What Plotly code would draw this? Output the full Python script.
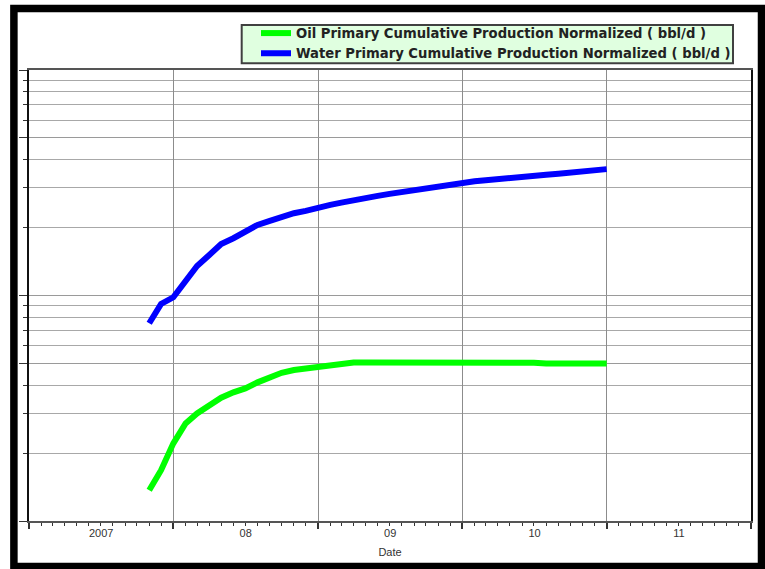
import plotly.graph_objects as go

# Monthly normalized cumulative production (bbl/d), Nov 2007 - Jan 2011
months = [
    "2007-11-01", "2007-12-01",
    "2008-01-01", "2008-02-01", "2008-03-01", "2008-04-01", "2008-05-01", "2008-06-01",
    "2008-07-01", "2008-08-01", "2008-09-01", "2008-10-01", "2008-11-01", "2008-12-01",
    "2009-01-01", "2009-02-01", "2009-03-01", "2009-04-01", "2009-05-01", "2009-06-01",
    "2009-07-01", "2009-08-01", "2009-09-01", "2009-10-01", "2009-11-01", "2009-12-01",
    "2010-01-01", "2010-02-01", "2010-03-01", "2010-04-01", "2010-05-01", "2010-06-01",
    "2010-07-01", "2010-08-01", "2010-09-01", "2010-10-01", "2010-11-01", "2010-12-01",
    "2011-01-01",
]

oil = [
    13.7, 16.8,
    22.1, 27.1, 30.0, 32.7, 35.2, 37.2,
    38.7, 41.2, 43.6, 45.4, 46.7, 47.5,
    48.6, 49.5, 50.2, 50.5, 50.5, 50.5,
    50.3, 50.7, 51.0, 51.0, 50.5, 50.3,
    50.3, 50.3, 50.3, 50.3, 50.3, 50.4,
    50.3, 50.0, 50.0, 50.0, 50.0, 50.0,
    50.0,
]

water = [
    75.3, 91.7,
    98.2, 115.2, 135.2, 151.3, 169.3, 179.5,
    192.0, 205.6, 214.2, 223.8, 231.7, 237.2,
    246.4, 252.3, 258.3, 265.5, 271.0, 276.6,
    282.3, 288.2, 294.1, 300.2, 306.3, 312.0,
    318.1, 321.4, 324.7, 329.1, 333.5, 335.9,
    339.3, 342.8, 346.3, 349.9, 353.5, 360.8,
    363.4,
]

series_names = [
    "Oil Primary Cumulative Production Normalized ( bbl/d )",
    "Water Primary Cumulative Production Normalized ( bbl/d )",
]

# log-axis gridlines: every integer multiple within each decade
major_y = [10, 50, 100, 500, 1000]
minor_y = [20, 30, 40, 60, 70, 80, 90, 200, 300, 400, 600, 700, 800, 900]

FONT = "Liberation Sans, Arial, sans-serif"
LEGEND_FONT = "DejaVu Sans, Verdana, sans-serif"
W, H = 765, 569
ML, MR, MT, MB = 29, 14, 70, 48
PW, PH = W - ML - MR, H - MT - MB


def px(x):
    return (x - ML) / PW


def py(y):
    return (H - MB - y) / PH


fig = go.Figure()
fig.add_trace(go.Scatter(x=months, y=oil, name=series_names[0], mode="lines",
                         line=dict(color="#00ff00", width=6)))
fig.add_trace(go.Scatter(x=months, y=water, name=series_names[1], mode="lines",
                         line=dict(color="#0000ff", width=6)))

fig.update_layout(
    width=W, height=H,
    margin=dict(l=ML, r=MR, t=MT, b=MB, pad=0),
    paper_bgcolor="white", plot_bgcolor="white",
    font=dict(family=FONT, color="#333333"),
    showlegend=True,
    legend=dict(
        x=px(256), y=py(18), xanchor="left", yanchor="top",
        bgcolor="rgba(0,0,0,0)", borderwidth=0,
        font=dict(family=LEGEND_FONT, size=13.2, color="#222222", weight="bold"),
        tracegroupgap=0, itemwidth=30,
    ),
    xaxis=dict(
        type="date", range=["2007-01-01", "2012-01-01"],
        dtick="M12", tick0="2007-01-01", tickformat="%y",
        ticklabelmode="period", labelalias={"07": "2007"},
        ticks="outside", ticklen=6, tickwidth=2, tickcolor="#333333",
        ticklabelstandoff=-5,
        showgrid=True, gridcolor="#8c8c8c", gridwidth=1,
        showline=True, linecolor="#555555", linewidth=2, mirror=True,
        tickfont=dict(size=11, color="#333333"),
        minor=dict(dtick="M1", tick0="2007-01-01", ticks="outside", ticklen=3,
                   tickwidth=1, tickcolor="#333333", showgrid=False),
        title=dict(text="Date", font=dict(size=11, color="#333333"), standoff=10),
        zeroline=False,
    ),
    yaxis=dict(
        type="log", range=[1, 3],
        tickmode="array", tickvals=major_y, showticklabels=False,
        ticks="outside", ticklen=8, tickcolor="#333333",
        showgrid=True, gridcolor="#9a9a9a", gridwidth=1,
        showline=True, linecolor="#111111", linewidth=2, mirror=True,
        minor=dict(tickmode="array", tickvals=minor_y, ticks="outside", ticklen=4,
                   tickcolor="#333333", showgrid=True, gridcolor="#a8a8a8", gridwidth=1),
        zeroline=False,
    ),
    shapes=[
        # legend panel
        dict(type="rect", xref="paper", yref="paper", layer="below",
             x0=px(241.7), x1=px(733), y0=py(63.3), y1=py(25),
             fillcolor="#e0ffe0", line=dict(color="#404040", width=2)),
        # outer black frame
        dict(type="rect", xref="paper", yref="paper", layer="above",
             x0=px(13.9), x1=px(761.5), y0=py(566.5), y1=py(8.5),
             fillcolor="rgba(0,0,0,0)", line=dict(color="black", width=7.5)),
    ],
)

fig.write_html("out.html")
